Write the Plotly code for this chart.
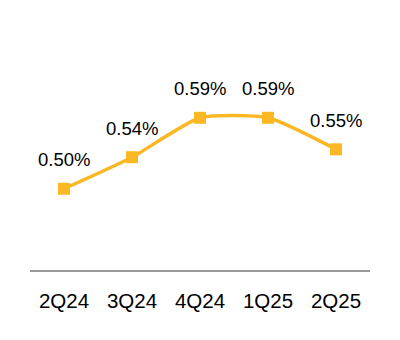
import plotly.graph_objects as go

quarters = ["2Q24", "3Q24", "4Q24", "1Q25", "2Q25"]
values = [0.50, 0.54, 0.59, 0.59, 0.55]
labels = ["0.50%", "0.54%", "0.59%", "0.59%", "0.55%"]

color = "#FBB724"

fig = go.Figure()
fig.add_trace(go.Scatter(
    x=quarters, y=values, mode="lines+markers",
    line=dict(color=color, width=3.5, shape="spline", smoothing=0.55),
    marker=dict(symbol="square", size=12, color=color),
    hoverinfo="skip",
))

for q, v, t in zip(quarters, values, labels):
    fig.add_annotation(x=q, y=v, text=t, showarrow=False, yshift=29,
                       font=dict(size=18.5, color="#000000", family="Liberation Sans"))

fig.update_layout(
    width=400, height=340,
    margin=dict(l=30, r=30, t=20, b=70),
    paper_bgcolor="white", plot_bgcolor="white",
    showlegend=False,
    font=dict(family="Liberation Sans", color="#000000"),
)
fig.update_xaxes(
    type="category", range=[-0.5, 4.5],
    showline=True, linecolor="#999999", linewidth=2,
    showgrid=False, zeroline=False,
    ticks="outside", ticklen=11, tickcolor="rgba(0,0,0,0)",
    tickfont=dict(size=20.5, color="#000000"),
)
fig.update_yaxes(
    range=[0.397, 0.714], visible=False, showgrid=False, zeroline=False,
)

fig.write_html("out.html")
